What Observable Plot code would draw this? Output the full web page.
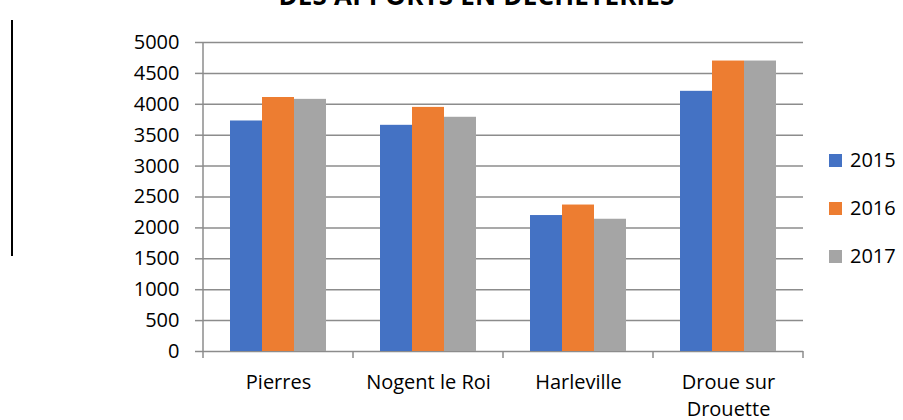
<!DOCTYPE html>
<html>
<head>
<meta charset="utf-8">
<script src="https://cdn.jsdelivr.net/npm/d3@7"></script>
<script src="https://cdn.jsdelivr.net/npm/@observablehq/plot@0.6"></script>
<style>
  html, body { margin: 0; padding: 0; background: #fff; overflow: hidden; }
  #wrap { position: relative; width: 903px; height: 420px; font-family: "Open Sans", sans-serif; }
  #title { position: absolute; left: 0; width: 953px; top: -18px; text-align: center; font-weight: bold; font-size: 26px; line-height: 26px; letter-spacing: 0.2px; color: #000; white-space: nowrap; }
  #leftline { position: absolute; left: 11px; top: 20px; width: 2px; height: 236px; background: #000; }
  #legend { position: absolute; left: 829px; top: 0; }
  .li { position: absolute; left: 0; display: flex; align-items: center; font-size: 20px; line-height: 20px; color: #000; white-space: nowrap; }
  .sw { width: 13px; height: 13px; margin-right: 8px; }
  #chart { position: absolute; left: 0; top: 0; }
</style>
</head>
<body>
<div id="wrap">
  <div id="chart"></div>
  <div id="title">DES APPORTS EN DECHETERIES</div>
  <div id="leftline"></div>
  <div id="legend"></div>
</div>
<script>
const cities = ["Pierres", "Nogent le Roi", "Harleville", "Droue sur Drouette"];
const cityLabels = ["Pierres", "Nogent le Roi", "Harleville", "Droue sur\nDrouette"];
const years = ["2015", "2016", "2017"];
const values2015 = [3730, 3660, 2200, 4210];
const values2016 = [4110, 3950, 2370, 4700];
const values2017 = [4080, 3790, 2140, 4700];
const colors = ["#4472C4", "#ED7D31", "#A5A5A5"];
const yTicks = [0, 500, 1000, 1500, 2000, 2500, 3000, 3500, 4000, 4500, 5000];
const legendY = [160, 208, 256];

const series = [values2015, values2016, values2017];
const data = cities.flatMap((c, i) => years.map((y, j) => ({city: c, year: y, value: series[j][i]})));
const gridColor = "#8C8C8C";

const chart = Plot.plot({
  width: 903,
  height: 420,
  marginLeft: 202,
  marginRight: 100,
  marginTop: 42,
  marginBottom: 69,
  style: {fontFamily: "Open Sans", fontSize: "20px", color: "#000", background: "transparent"},
  fx: {domain: cities, padding: 0, label: null},
  x: {domain: years, paddingInner: 0, paddingOuter: 0.776, axis: null},
  y: {domain: [0, 5000], label: null},
  color: {domain: years, range: colors},
  marks: [
    Plot.ruleY(yTicks, {stroke: gridColor, strokeWidth: 1.5}),
    Plot.barY(data, {fx: "city", x: "year", y: "value", fill: "year"}),
    Plot.axisY({ticks: yTicks, tickSize: 8, tickPadding: 16, stroke: gridColor, strokeWidth: 1.5, fill: "#000", fontSize: 20, tickFormat: d => String(d), label: null}),
    Plot.axisFx({anchor: "bottom", tickSize: 0, tickPadding: 19, fontSize: 20, lineHeight: 1.32, fill: "#000", label: null,
      tickFormat: d => cityLabels[cities.indexOf(d)]})
  ]
});
document.getElementById("chart").appendChild(chart);

// boundary ticks and y-axis line, positioned through the plot's own scales
const fx = chart.scale("fx");
const ys = chart.scale("y");
const svg = d3.select(chart);
const y0 = ys.apply(0), yTop = ys.apply(5000);
const bounds = cities.map(c => fx.apply(c));
bounds.push(fx.apply(cities[cities.length - 1]) + fx.bandwidth);
const g = svg.append("g").attr("stroke", gridColor).attr("stroke-width", 1.5);
g.selectAll("line.b").data(bounds).join("line")
  .attr("x1", d => d).attr("x2", d => d).attr("y1", y0).attr("y2", y0 + 7);
g.append("line").attr("x1", bounds[0]).attr("x2", bounds[0]).attr("y1", yTop).attr("y2", y0);

// legend
const leg = d3.select("#legend");
years.forEach((y, i) => {
  const item = leg.append("div").attr("class", "li").style("top", (legendY[i] - 10) + "px");
  item.append("div").attr("class", "sw").style("background", colors[i]);
  item.append("span").text(y);
});
</script>
</body>
</html>
